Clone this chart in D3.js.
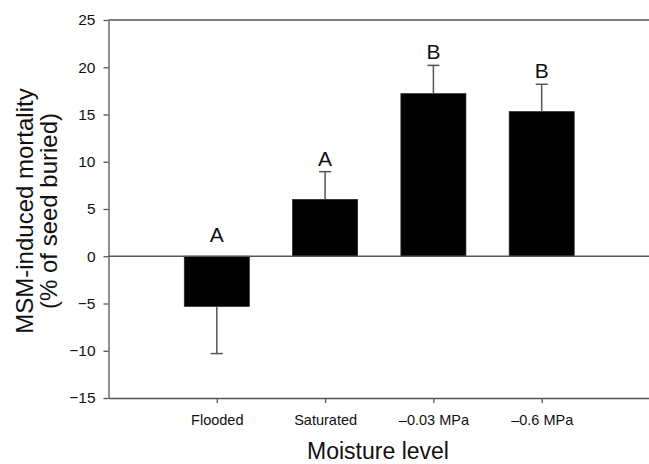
<!DOCTYPE html>
<html>
<head>
<meta charset="utf-8">
<script src="https://cdn.jsdelivr.net/npm/d3@7"></script>
<style>
  body { margin: 0; background: #fff; }
  text { font-family: Arial, "Liberation Sans", sans-serif; }
</style>
</head>
<body>
<div id="vis"></div>
<script>
// data
let categories = ['Flooded', 'Saturated', '\u20130.03 MPa', '\u20130.6 MPa']
let means = [-5.3, 6.0, 17.2, 15.3]
let errors = [5.0, 2.95, 3.0, 2.9]
let letters = ['A', 'A', 'B', 'B']
let yTicks = [-15, -10, -5, 0, 5, 10, 15, 20, 25]

let W = 649, H = 464
let margin = { top: 20, left: 108.5, right: 0, bottom: 66 }

let svg = d3.select('#vis')
  .append('svg')
  .attr('width', W)
  .attr('height', H)
  .attr('viewBox', [0, 0, W, H].join(' '))

let x = d3.scalePoint()
  .domain(categories)
  .range([margin.left, W + 1])
  .padding(1)

let y = d3.scaleLinear()
  .domain([-15, 25])
  .range([H - margin.bottom, margin.top])

let axisColor = '#555'

// bars
let barW = x.step() * 0.6
svg.selectAll('rect.bar')
  .data(means)
  .join('rect')
  .attr('class', 'bar')
  .attr('x', (d, i) => x(categories[i]) - barW / 2)
  .attr('y', d => y(Math.max(d, 0)))
  .attr('width', barW)
  .attr('height', d => Math.abs(y(d) - y(0)))
  .attr('fill', '#000')
  .attr('stroke', '#222')
  .attr('stroke-width', 0.8)

// error bars (one-sided, away from zero)
let errG = svg.append('g')
  .attr('stroke', axisColor)
  .attr('stroke-width', 1.5)
means.forEach((m, i) => {
  let cx = x(categories[i])
  let end = m >= 0 ? m + errors[i] : m - errors[i]
  errG.append('line')
    .attr('x1', cx).attr('x2', cx)
    .attr('y1', y(m)).attr('y2', y(end))
  errG.append('line')
    .attr('x1', cx - 6).attr('x2', cx + 6)
    .attr('y1', y(end)).attr('y2', y(end))
})

// significance letters
svg.selectAll('text.letter')
  .data(letters)
  .join('text')
  .attr('class', 'letter')
  .attr('x', (d, i) => x(categories[i]))
  .attr('y', (d, i) => means[i] >= 0 ? y(means[i] + errors[i]) - 6 : y(0) - 14)
  .attr('text-anchor', 'middle')
  .attr('font-size', 21)
  .attr('fill', '#111')
  .text(d => d)

// zero line and top frame line
svg.append('line')
  .attr('x1', margin.left).attr('x2', W)
  .attr('y1', y(0)).attr('y2', y(0))
  .attr('stroke', axisColor).attr('stroke-width', 1.3)
svg.append('line')
  .attr('x1', margin.left).attr('x2', W)
  .attr('y1', y(25)).attr('y2', y(25))
  .attr('stroke', axisColor).attr('stroke-width', 1.3)

// y axis
let yAxis = svg.append('g')
  .attr('transform', `translate(${margin.left},0)`)
  .call(d3.axisLeft(y).tickValues(yTicks).tickSize(5).tickPadding(8).tickSizeOuter(0))
yAxis.select('.domain').attr('stroke', axisColor).attr('stroke-width', 1.3)
yAxis.selectAll('.tick line').attr('stroke', axisColor).attr('stroke-width', 1.3)
yAxis.selectAll('.tick text')
  .attr('font-size', 15.5)
  .attr('font-family', 'Arial, "Liberation Sans", sans-serif')
  .attr('fill', '#111')

// x axis
let xAxis = svg.append('g')
  .attr('transform', `translate(0,${y(-15)})`)
  .call(d3.axisBottom(x).tickSize(5).tickPadding(12).tickSizeOuter(0))
xAxis.select('.domain').attr('stroke', axisColor).attr('stroke-width', 1.3)
xAxis.selectAll('.tick line').attr('stroke', axisColor).attr('stroke-width', 1.3)
xAxis.selectAll('.tick text')
  .attr('font-size', 14.5)
  .attr('font-family', 'Arial, "Liberation Sans", sans-serif')
  .attr('fill', '#111')

// axis titles
svg.append('text')
  .attr('x', 378)
  .attr('y', 459)
  .attr('text-anchor', 'middle')
  .attr('font-size', 23)
  .attr('fill', '#111')
  .text('Moisture level')

let yTitle = svg.append('text')
  .attr('transform', 'translate(33,211) rotate(-90)')
  .attr('text-anchor', 'middle')
  .attr('font-size', 24)
  .attr('fill', '#111')
yTitle.append('tspan').attr('x', 0).attr('y', 0).text('MSM-induced mortality')
yTitle.append('tspan').attr('x', 0).attr('y', 24).text('(% of seed buried)')
</script>
</body>
</html>
